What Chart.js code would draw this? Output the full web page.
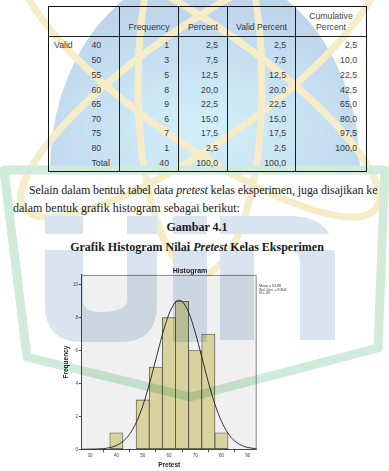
<!DOCTYPE html>
<html lang="id">
<head>
<meta charset="utf-8">
<title>Histogram Pretest</title>
<script src="https://cdn.jsdelivr.net/npm/chart.js@4.4.1/dist/chart.umd.min.js"></script>
<style>
  html, body { margin: 0; padding: 0; background: #fff; }
  body { position: relative; width: 389px; height: 471px; overflow: hidden; font-family: "Liberation Serif", "Times New Roman", serif; color: #1a1a1a; }
  #freqTable { position: absolute; left: 48px; top: 6px; width: 318px; border-collapse: collapse; table-layout: fixed;
    font-family: "Liberation Sans", Arial, sans-serif; font-size: 8.7px; color: #444; border: 1.5px solid #111; }
  #freqTable th { font-weight: normal; height: 26px; padding: 0 0 3px; vertical-align: bottom; text-align: center; line-height: 11px;
    border-left: 1px solid #222; border-bottom: 1px solid #222; }
  #freqTable td { height: 14.6px; padding: 0 9px 0 0; text-align: right; vertical-align: middle; border-left: 1px solid #222; }
  #freqTable td.lab { text-align: left; padding: 0 0 0 5px; }
  #freqTable td.val { text-align: left; padding: 0 0 0 5px; border-left: none; }
  #freqTable tr.first td { height: 16.2px; }
  #freqTable tr.total td { height: 15.3px; }
  .para { position: absolute; white-space: nowrap; font-size: 12px; line-height: 18px; }
  .head { position: absolute; left: 0; width: 394px; text-align: center; font-weight: bold; font-size: 12px; line-height: 18px; }
  #chartBox { position: absolute; left: 55px; top: 262px; width: 270px; height: 209px; }
  #stats { position: absolute; left: 259px; top: 285px; font-family: "Liberation Sans", Arial, sans-serif; font-size: 3.6px; line-height: 3.7px; color: #333; white-space: nowrap; }
  #wm { position: absolute; left: 0; top: 0; mix-blend-mode: multiply; pointer-events: none; z-index: 5; }
</style>
</head>
<body>
<table id="freqTable">
  <colgroup><col style="width:38px"><col style="width:33px"><col style="width:59px"><col style="width:49px"><col style="width:68px"><col style="width:71px"></colgroup>
  <thead><tr><th colspan="2" style="border-left:none"></th><th>Frequency</th><th>Percent</th><th>Valid Percent</th><th>Cumulative<br>Percent</th></tr></thead>
  <tbody id="freqBody"></tbody>
</table>

<div class="para" style="left:29px; top:181px; letter-spacing:-0.1px">Selain dalam bentuk tabel data <i>pretest</i> kelas eksperimen, juga disajikan ke</div>
<div class="para" style="left:13px; top:199px">dalam bentuk grafik histogram sebagai berikut:</div>
<div class="head" style="top:218px">Gambar 4.1</div>
<div class="head" style="top:238px">Grafik Histogram Nilai <i>Pretest</i> Kelas Eksperimen</div>

<div id="chartBox"><canvas id="histogram"></canvas></div>
<div id="stats"></div>

<svg id="wm" width="389" height="471" viewBox="0 0 389 471">
  <defs>
    <radialGradient id="dome" cx="0.5" cy="0.8" r="0.65">
      <stop offset="0" stop-color="#d3f0fa"/>
      <stop offset="1" stop-color="#bdd4eb"/>
    </radialGradient>
    <mask id="stripe">
      <rect x="0" y="0" width="389" height="471" fill="#fff"/>
      <rect x="0" y="234" width="389" height="16" fill="#000"/>
    </mask>
  </defs>
  <path d="M50,170 A155,200 0 0 1 360,170 Z" fill="url(#dome)"/>
  <g fill="none" stroke="#f7ecc8" stroke-width="7">
    <ellipse cx="200" cy="85" rx="215" ry="58" transform="rotate(35 200 85)"/>
    <ellipse cx="200" cy="85" rx="215" ry="58" transform="rotate(-35 200 85)"/>
    <ellipse cx="200" cy="85" rx="62" ry="190"/>
  </g>
  <g fill="#d9e4f0" mask="url(#stripe)">
    <path d="M45,216 H83 V300 Q83,312 100,312 Q127,312 127,300 V216 H157 V305 Q157,342 120,342 H82 Q45,342 45,305 Z"/>
    <rect x="173" y="216" width="34" height="126"/>
    <path d="M220,216 H290 Q335,216 335,260 V340 H300 V262 Q300,250 285,250 H254 V340 H220 Z"/>
  </g>
  <path d="M4,170 H385 L378,348 L190,397 L27,357 Z" fill="none" stroke="#d0ebdc" stroke-width="9" stroke-linejoin="round"/>
</svg>

<script>
// frequency table (pretest, kelas eksperimen)
const scores = [40, 50, 55, 60, 65, 70, 75, 80];
const frequency = [1, 3, 5, 8, 9, 6, 7, 1];
const percent = [2.5, 7.5, 12.5, 20.0, 22.5, 15.0, 17.5, 2.5];
const validPercent = [2.5, 7.5, 12.5, 20.0, 22.5, 15.0, 17.5, 2.5];
const cumulativePercent = [2.5, 10.0, 22.5, 42.5, 65.0, 80.0, 97.5, 100.0];
const totalFrequency = 40;
const totalPercent = 100.0;

// histogram axes
const xTicks = [30, 40, 50, 60, 70, 80, 90];
const yTicks = [0, 2, 4, 6, 8, 10];

// normal curve
const curveX = [26.8, 30, 32.5, 35, 37.5, 40, 42.5, 45, 47.5, 50, 52.5, 55, 57.5, 60, 62.5, 63.9, 65, 67.5, 70, 72.5, 75, 77.5, 80, 82.5, 85, 87.5, 90, 92.5, 93.4];
const curveY = [0, 0.01, 0.02, 0.04, 0.1, 0.23, 0.48, 0.91, 1.61, 2.62, 3.94, 5.45, 6.97, 8.22, 8.95, 9.06, 8.99, 8.33, 7.11, 5.61, 4.08, 2.74, 1.7, 0.97, 0.51, 0.25, 0.11, 0.05, 0.03];

const stats = ['Mean = 63,88', 'Std. Dev. = 8,806', 'N = 40'];

function fmt(v) {
    return v.toFixed(1).replace('.', ',');
}

// build table rows
const body = document.getElementById('freqBody');
scores.forEach(function (s, i) {
    const tr = document.createElement('tr');
    if (i === 0) tr.className = 'first';
    tr.innerHTML = '<td class="lab" style="border-left:none">' + (i === 0 ? 'Valid' : '') + '</td>' +
        '<td class="val">' + s + '</td>' +
        '<td>' + frequency[i] + '</td>' +
        '<td>' + fmt(percent[i]) + '</td>' +
        '<td>' + fmt(validPercent[i]) + '</td>' +
        '<td>' + fmt(cumulativePercent[i]) + '</td>';
    body.appendChild(tr);
});
const totalTr = document.createElement('tr');
totalTr.className = 'total';
totalTr.innerHTML = '<td class="lab" style="border-left:none"></td><td class="val">Total</td>' +
    '<td>' + totalFrequency + '</td><td>' + fmt(totalPercent) + '</td><td>' + fmt(totalPercent) + '</td><td></td>';
body.appendChild(totalTr);

document.getElementById('stats').innerHTML = stats.join('<br>');

// plot background and frame like SPSS
const plotFrame = {
    id: 'plotFrame',
    beforeDraw(chart) {
        const a = chart.chartArea;
        const c = chart.ctx;
        c.save();
        c.fillStyle = '#f0f0f0';
        c.fillRect(a.left, a.top, a.right - a.left, a.bottom - a.top);
        c.restore();
    },
    afterDatasetsDraw(chart) {
        const a = chart.chartArea;
        const c = chart.ctx;
        c.save();
        c.strokeStyle = '#8a8a8a';
        c.lineWidth = 1;
        c.beginPath();
        c.moveTo(a.left, a.top + 0.5);
        c.lineTo(a.right - 0.5, a.top + 0.5);
        c.lineTo(a.right - 0.5, a.bottom);
        c.stroke();
        c.restore();
    }
};

const family = '"Liberation Sans", Arial, sans-serif';

new Chart(document.getElementById('histogram').getContext('2d'), {
    type: 'bar',
    data: {
        datasets: [{
            type: 'line',
            data: curveX.map(function (x, i) { return { x: x, y: curveY[i] }; }),
            borderColor: '#1c1c1c',
            borderWidth: 0.9,
            pointRadius: 0,
            cubicInterpolationMode: 'monotone',
            order: 1
        }, {
            type: 'bar',
            data: scores.map(function (x, i) { return { x: x, y: frequency[i] }; }),
            backgroundColor: 'rgb(216, 210, 158)',
            borderColor: '#4b4b40',
            borderWidth: 0.8,
            borderSkipped: false,
            barPercentage: 1,
            categoryPercentage: 1,
            order: 2
        }]
    },
    options: {
        responsive: true,
        maintainAspectRatio: false,
        devicePixelRatio: 1,
        animation: false,
        layout: { padding: 0 },
        plugins: {
            legend: { display: false },
            tooltip: { enabled: false },
            title: {
                display: true,
                text: 'Histogram',
                color: '#222',
                font: { family: family, size: 7, weight: 'bold' },
                padding: { top: 4.5, bottom: 0 }
            }
        },
        scales: {
            x: {
                type: 'linear',
                min: 26.8,
                max: 93.4,
                offset: false,
                afterBuildTicks: function (s) { s.ticks = xTicks.map(function (v) { return { value: v }; }); },
                afterFit: function (s) { s.height = 21.7; },
                grid: { drawOnChartArea: false, drawTicks: true, tickLength: 3, tickColor: '#555' },
                border: { color: '#444', width: 1 },
                ticks: { color: '#444', font: { family: family, size: 4.5 }, padding: 0.5, maxRotation: 0, autoSkip: false },
                title: { display: true, text: 'Pretest', color: '#222', font: { family: family, size: 6.5, weight: 'bold' }, padding: { top: 0, bottom: 2.1 } }
            },
            y: {
                min: 0,
                max: 10.6,
                afterBuildTicks: function (s) { s.ticks = yTicks.map(function (v) { return { value: v }; }); },
                afterFit: function (s) { s.width = 26.7; },
                grid: { drawOnChartArea: false, drawTicks: true, tickLength: 3, tickColor: '#555' },
                border: { color: '#444', width: 1 },
                ticks: { color: '#444', font: { family: family, size: 4.5 }, padding: 0.7 },
                title: { display: true, text: 'Frequency', color: '#222', font: { family: family, size: 6.5, weight: 'bold' }, padding: { top: 7.8, bottom: 0 } }
            },
            y2: {
                position: 'right',
                grid: { display: false },
                border: { display: false },
                ticks: { display: false },
                afterFit: function (s) { s.width = 68.3; }
            }
        }
    },
    plugins: [plotFrame]
});
</script>
</body>
</html>
